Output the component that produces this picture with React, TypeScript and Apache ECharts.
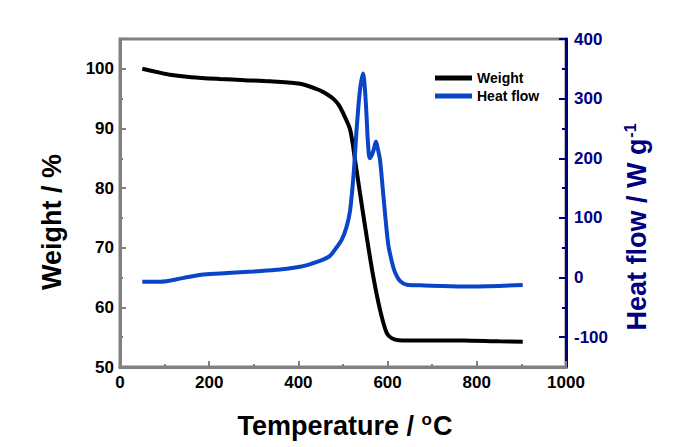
import React, { useEffect, useRef } from "react";
import * as echarts from "echarts";

const weightTemps = [50, 80, 112, 160, 224, 280, 336, 404, 448, 465, 478, 490, 500, 516, 527, 538, 553, 568, 583, 598, 610, 625, 673, 770, 850, 903];
const weightValues = [100, 99.5, 99.0, 98.6, 98.3, 98.1, 97.9, 97.5, 96.4, 95.7, 95.0, 94.0, 92.6, 89.8, 84.7, 79.2, 71.9, 65.1, 59.6, 55.7, 54.8, 54.5, 54.45, 54.45, 54.3, 54.25];

const heatTemps = [50, 90, 140, 187, 240, 299, 350, 404, 448, 470, 485, 497, 508, 516, 524, 531, 538, 545, 549, 553, 556, 560, 565, 569, 574, 578, 583, 590, 601, 610, 617, 627, 643, 673, 770, 850, 903];
const heatValues = [-7, -7, -1, 5, 7.5, 10, 13, 18, 28, 36, 50, 63, 85, 113, 175, 253, 314, 342, 318, 268, 225, 200, 206, 215, 228, 216, 197, 142, 58, 25, 8, -5, -12, -13, -15, -14, -12.5];

const xTickLabels = [0, 200, 400, 600, 800, 1000];
const weightTickLabels = [50, 60, 70, 80, 90, 100];
const weightMinorTicks = [55, 65, 75, 85, 95];
const heatTickLabels = [-100, 0, 100, 200, 300, 400];
const heatMinorTicks = [-50, 50, 150, 250, 350];

const FONT = '"Liberation Sans", Arial, Helvetica, sans-serif';
const GRAY = "#808080";
const NAVY = "#000080";
const BLUE = "#0a45c8";

export default function App() {
  const ref = useRef<HTMLDivElement>(null);
  useEffect(() => {
    document.body.style.margin = "0";
    const chart = echarts.init(ref.current!, null, { renderer: "svg" });
    const weightData = weightTemps.map((t, i) => [t, weightValues[i]]);
    const heatData = heatTemps.map((t, i) => [t, heatValues[i]]);
    const labelStyle = { fontFamily: FONT, fontWeight: "bold" as const, fontSize: 17, formatter: (v: number) => String(v) };
    chart.setOption({
      animation: false,
      grid: {
        left: 120,
        right: 129,
        top: 39,
        bottom: 80,
        show: true,
        borderColor: GRAY,
        borderWidth: 3,
        backgroundColor: "transparent",
      },
      legend: {
        data: ["Weight", "Heat flow"],
        orient: "vertical",
        left: 430,
        top: 65,
        icon: "rect",
        itemWidth: 37,
        itemHeight: 5,
        itemGap: 2,
        textStyle: { fontFamily: FONT, fontWeight: "bold", fontSize: 14, color: "#000", lineHeight: 16 },
      },
      xAxis: {
        type: "value",
        min: 0,
        max: 1000,
        interval: 200,
        axisLine: { show: true, onZero: false, lineStyle: { color: GRAY, width: 3 } },
        axisTick: { show: true, inside: true, length: 6, lineStyle: { color: GRAY, width: 2 } },
        minorTick: { show: true, splitNumber: 2, length: 3, lineStyle: { color: GRAY, width: 2 } },
        axisLabel: { ...labelStyle, color: "#000", margin: 7, customValues: xTickLabels },
        splitLine: { show: false },
        minorSplitLine: { show: false },
      },
      yAxis: [
        {
          type: "value",
          position: "left",
          min: 50,
          max: 105,
          axisLine: { show: true, onZero: false, lineStyle: { color: GRAY, width: 3 } },
          axisTick: { show: true, inside: true, length: 6, lineStyle: { color: GRAY, width: 2 }, customValues: weightTickLabels },
          axisLabel: { ...labelStyle, color: "#000", margin: 6, customValues: weightTickLabels },
          splitLine: { show: false },
        },
        {
          type: "value",
          position: "right",
          min: -150,
          max: 400,
          alignTicks: false,
          axisLine: { show: true, onZero: false, lineStyle: { color: NAVY, width: 3 } },
          axisTick: { show: true, inside: true, length: 7, lineStyle: { color: NAVY, width: 2 }, customValues: heatTickLabels },
          axisLabel: { ...labelStyle, color: NAVY, margin: 8, customValues: heatTickLabels },
          splitLine: { show: false },
        },
        {
          type: "value",
          position: "left",
          min: 50,
          max: 105,
          axisLine: { show: false, onZero: false },
          axisTick: { show: true, inside: true, length: 3, lineStyle: { color: GRAY, width: 2 }, customValues: weightMinorTicks },
          axisLabel: { show: false },
          splitLine: { show: false },
        },
        {
          type: "value",
          position: "right",
          min: -150,
          max: 400,
          axisLine: { show: false, onZero: false },
          axisTick: { show: true, inside: true, length: 4, lineStyle: { color: NAVY, width: 2 }, customValues: heatMinorTicks },
          axisLabel: { show: false },
          splitLine: { show: false },
        },
      ],
      series: [
        {
          name: "Weight",
          type: "line",
          yAxisIndex: 0,
          data: weightData,
          showSymbol: false,
          symbol: "none",
          smooth: 0.3,
          lineStyle: { color: "#000", width: 4 },
          itemStyle: { color: "#000" },
          z: 3,
        },
        {
          name: "Heat flow",
          type: "line",
          yAxisIndex: 1,
          data: heatData,
          showSymbol: false,
          symbol: "none",
          smooth: 0.3,
          lineStyle: { color: BLUE, width: 4 },
          itemStyle: { color: BLUE },
          z: 4,
        },
      ],
      graphic: [
        {
          type: "text",
          x: 52,
          y: 222,
          rotation: Math.PI / 2,
          style: {
            text: "Weight / %",
            fontFamily: FONT,
            fontWeight: "bold",
            fontSize: 27,
            fill: "#000",
            textAlign: "center",
            textVerticalAlign: "middle",
          },
        },
        {
          type: "text",
          x: 345,
          y: 426,
          style: {
            text: "{a|Temperature / }{s|o}{a|C}",
            textAlign: "center",
            textVerticalAlign: "middle",
            rich: {
              a: { fontFamily: FONT, fontWeight: "bold", fontSize: 27, fill: "#000", lineHeight: 30 },
              s: { fontFamily: FONT, fontWeight: "bold", fontSize: 17, fill: "#000", verticalAlign: "top", lineHeight: 30, padding: [0, 1, 14, 0] },
            },
          },
        },
        {
          type: "text",
          x: 637,
          y: 227,
          rotation: Math.PI / 2,
          style: {
            text: "{a|Heat flow / W g}{s|-1}",
            textAlign: "center",
            textVerticalAlign: "middle",
            rich: {
              a: { fontFamily: FONT, fontWeight: "bold", fontSize: 27, fill: NAVY, lineHeight: 30 },
              s: { fontFamily: FONT, fontWeight: "bold", fontSize: 16, fill: NAVY, verticalAlign: "top", lineHeight: 30, padding: [0, 0, 14, 1] },
            },
          },
        },
      ],
    });
    return () => chart.dispose();
  }, []);
  return <div ref={ref} style={{ width: 695, height: 447 }} />;
}
